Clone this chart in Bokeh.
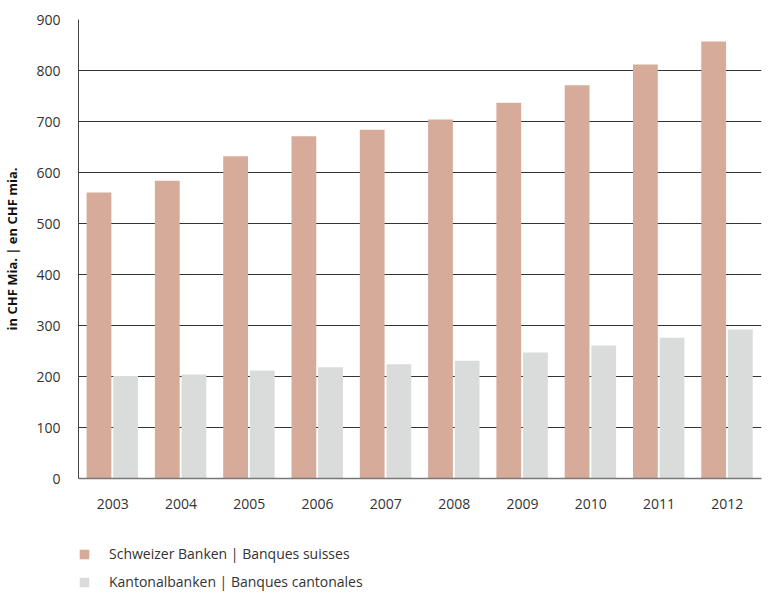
from bokeh.plotting import figure
from bokeh.models import ColumnDataSource, Legend, LegendItem, FixedTicker
from bokeh.layouts import column
from bokeh.transform import dodge
from bokeh.embed import file_html
from bokeh.resources import INLINE

years = ["2003", "2004", "2005", "2006", "2007", "2008", "2009", "2010", "2011", "2012"]
schweizer = [561, 584, 632, 671, 684, 704, 737, 771, 812, 857]
kantonal = [201, 204, 212, 218, 224, 231, 247, 261, 276, 292]
series_names = ["Schweizer Banken | Banques suisses", "Kantonalbanken | Banques cantonales"]
colors = ["#D6AB99", "#DADCDB"]
y_ticks = [0, 100, 200, 300, 400, 500, 600, 700, 800, 900]

FONT = "Open Sans"
TXT = "#333333"

src = ColumnDataSource(dict(years=years, schweizer=schweizer, kantonal=kantonal))

p = figure(x_range=years, y_range=(0, 900), width=770, height=512,
           output_backend="svg", toolbar_location=None,
           min_border_left=73, min_border_right=9, min_border_top=19, min_border_bottom=34)
p.outline_line_color = None

p.vbar(x=dodge("years", -0.2, range=p.x_range), top="schweizer", width=0.363,
       source=src, fill_color=colors[0], line_color=None)
p.vbar(x=dodge("years", 0.19, range=p.x_range), top="kantonal", width=0.363,
       source=src, fill_color=colors[1], line_color=None)

p.xgrid.grid_line_color = None
p.ygrid.grid_line_color = "#333333"
p.ygrid.grid_line_width = 1
p.yaxis.ticker = FixedTicker(ticks=y_ticks)

p.yaxis.axis_line_color = "#444444"
p.yaxis.major_tick_line_color = None
p.yaxis.minor_tick_line_color = None
p.yaxis.major_label_text_font = FONT
p.yaxis.major_label_text_font_size = "14px"
p.yaxis.major_label_text_color = TXT
p.yaxis.major_label_standoff = 12
p.yaxis.axis_label = "in CHF Mia. | en CHF mia."
p.yaxis.axis_label_text_font = FONT
p.yaxis.axis_label_text_font_style = "bold"
p.yaxis.axis_label_text_font_size = "13px"
p.yaxis.axis_label_text_color = "#111111"
p.yaxis.axis_label_standoff = 12

p.xaxis.axis_line_color = "#777777"
p.xaxis.axis_line_width = 1.5
p.xaxis.major_tick_line_color = None
p.xaxis.minor_tick_line_color = None
p.xaxis.major_label_text_font = FONT
p.xaxis.major_label_text_font_size = "14px"
p.xaxis.major_label_text_color = TXT
p.xaxis.major_label_standoff = 14

# legend figure below the chart (its renderers hold a point far outside the view)
lf = figure(width=770, height=84, output_backend="svg", toolbar_location=None,
            x_axis_type=None, y_axis_type=None, x_range=(0, 1), y_range=(0, 1),
            min_border=0)
lf.outline_line_color = None
lf.xgrid.grid_line_color = None
lf.ygrid.grid_line_color = None
hidden = ColumnDataSource(dict(x=[-10], top=[-10]))
lr1 = lf.vbar(x="x", top="top", width=0.1, source=hidden, fill_color=colors[0], line_color=None)
lr2 = lf.vbar(x="x", top="top", width=0.1, source=hidden, fill_color=colors[1], line_color=None)

legend = Legend(items=[LegendItem(label=series_names[0], renderers=[lr1]),
                       LegendItem(label=series_names[1], renderers=[lr2])],
                orientation="vertical", location=(0, 5),
                border_line_color=None, background_fill_alpha=0,
                label_text_font=FONT, label_text_font_size="14px", label_text_color=TXT,
                glyph_width=12, glyph_height=12, label_standoff=19, spacing=9,
                margin=0, padding=0)
legend.label_height = 16
lf.add_layout(legend, "center")

layout = column(p, lf, spacing=0)
open("out.html", "w").write(file_html(layout, INLINE))
